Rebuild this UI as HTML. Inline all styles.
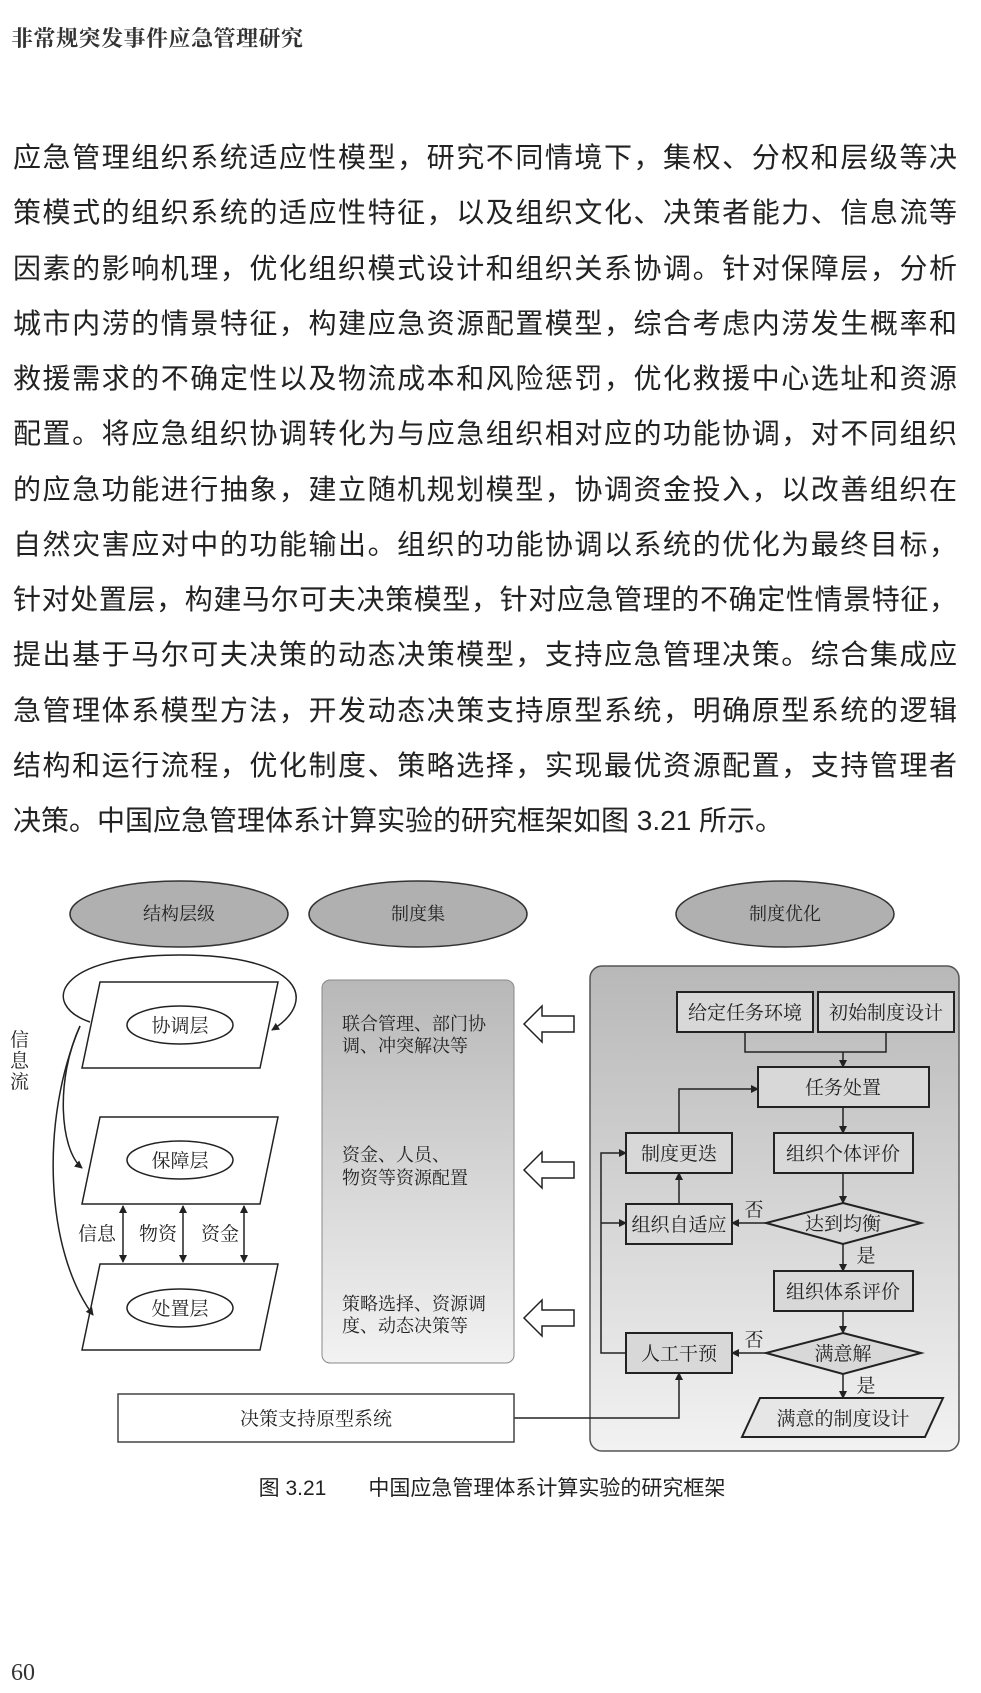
<!DOCTYPE html>
<html><head><meta charset="utf-8"><style>
body{margin:0;background:#fff;}
#p{position:relative;width:981px;height:1693px;overflow:hidden;background:#fff;}
.hd{position:absolute;left:11px;top:22px;font:bold 22px "Liberation Serif","Noto Serif CJK SC",serif;color:#333;letter-spacing:0.5px;}
.body{position:absolute;left:13px;top:130px;width:944px;font:28px "Liberation Sans","Noto Sans CJK SC",sans-serif;color:#222;}
.body div{height:55.25px;line-height:55.25px;text-align:justify;text-align-last:justify;white-space:nowrap;}
.body div.l{text-align-last:left;}
.pn{position:absolute;left:11px;top:1660px;font:24px "Liberation Serif",serif;color:#333;}
svg{position:absolute;left:0;top:0;}
svg text{font-family:"Liberation Serif","Noto Serif CJK SC",serif;fill:#222;}
</style></head><body><div id="p">
<div class="hd">非常规突发事件应急管理研究</div>
<div class="body">
<div>应急管理组织系统适应性模型，研究不同情境下，集权、分权和层级等决</div>
<div>策模式的组织系统的适应性特征，以及组织文化、决策者能力、信息流等</div>
<div>因素的影响机理，优化组织模式设计和组织关系协调。针对保障层，分析</div>
<div>城市内涝的情景特征，构建应急资源配置模型，综合考虑内涝发生概率和</div>
<div>救援需求的不确定性以及物流成本和风险惩罚，优化救援中心选址和资源</div>
<div>配置。将应急组织协调转化为与应急组织相对应的功能协调，对不同组织</div>
<div>的应急功能进行抽象，建立随机规划模型，协调资金投入，以改善组织在</div>
<div>自然灾害应对中的功能输出。组织的功能协调以系统的优化为最终目标，</div>
<div>针对处置层，构建马尔可夫决策模型，针对应急管理的不确定性情景特征，</div>
<div>提出基于马尔可夫决策的动态决策模型，支持应急管理决策。综合集成应</div>
<div>急管理体系模型方法，开发动态决策支持原型系统，明确原型系统的逻辑</div>
<div>结构和运行流程，优化制度、策略选择，实现最优资源配置，支持管理者</div>
<div class="l">决策。中国应急管理体系计算实验的研究框架如图 3.21 所示。</div>
</div>
<svg width="981" height="1693" viewBox="0 0 981 1693">
<defs>
<marker id="a" markerWidth="8" markerHeight="8" refX="7" refY="4" orient="auto" markerUnits="userSpaceOnUse"><path d="M0,0 L8,4 L0,8 Z" fill="#222"/></marker>
<marker id="b" markerWidth="8" markerHeight="8" refX="1" refY="4" orient="auto" markerUnits="userSpaceOnUse"><path d="M8,0 L0,4 L8,8 Z" fill="#222"/></marker>
<linearGradient id="g" x1="0" y1="0" x2="0" y2="1"><stop offset="0" stop-color="#b8b8b8"/><stop offset="1" stop-color="#f2f2f2"/></linearGradient>
</defs>
<g stroke="#333" stroke-width="1.5" fill="#b0b0b0">
<ellipse cx="179" cy="914" rx="109" ry="33"/>
<ellipse cx="418" cy="914" rx="109" ry="33"/>
<ellipse cx="785" cy="914" rx="109" ry="33"/>
</g>
<g font-size="18" text-anchor="middle">
<text x="179" y="920">结构层级</text><text x="418" y="920">制度集</text><text x="785" y="920">制度优化</text>
</g>
<!-- left -->
<g stroke="#222" stroke-width="1.5" fill="#fff">
<polygon points="100,982 278,982 260,1068 82,1068"/>
<polygon points="100,1117 278,1117 260,1204 82,1204"/>
<polygon points="100,1264 278,1264 260,1350 82,1350"/>
<ellipse cx="180" cy="1025" rx="53" ry="19"/>
<ellipse cx="180" cy="1160" rx="53" ry="19"/>
<ellipse cx="180" cy="1308" rx="53" ry="19"/>
</g>
<g font-size="19" text-anchor="middle">
<text x="180" y="1032">协调层</text><text x="180" y="1167">保障层</text><text x="180" y="1315">处置层</text>
<text x="97" y="1240">信息</text><text x="158" y="1240">物资</text><text x="220" y="1240">资金</text>
</g>
<g font-size="19"><text x="10" y="1046">信</text><text x="10" y="1067">息</text><text x="10" y="1088">流</text></g>
<g stroke="#222" stroke-width="1.5" fill="none">
<line x1="123" y1="1206" x2="123" y2="1262" marker-start="url(#b)" marker-end="url(#a)"/>
<line x1="183" y1="1206" x2="183" y2="1262" marker-start="url(#b)" marker-end="url(#a)"/>
<line x1="244" y1="1206" x2="244" y2="1262" marker-start="url(#b)" marker-end="url(#a)"/>
<path d="M90,1022 C40,1005 55,955 180,955 C300,955 320,1000 272,1030" marker-end="url(#a)"/>
<path d="M80,1026 C55,1080 60,1150 82,1168" marker-end="url(#a)"/>
<path d="M80,1026 C40,1120 45,1250 93,1315" marker-end="url(#a)"/>
</g>
<!-- middle -->
<rect x="322" y="980" width="192" height="383" rx="8" fill="url(#g)" stroke="#888" stroke-width="1"/>
<g font-size="18">
<text x="342" y="1030">联合管理、部门协</text><text x="342" y="1052">调、冲突解决等</text>
<text x="342" y="1161">资金、人员、</text><text x="342" y="1184">物资等资源配置</text>
<text x="342" y="1310">策略选择、资源调</text><text x="342" y="1332">度、动态决策等</text>
</g>
<g stroke="#222" stroke-width="1.5" fill="#fff">
<polygon points="524,1024 542,1006 542,1016 574,1016 574,1032 542,1032 542,1042"/>
<polygon points="524,1170 542,1152 542,1162 574,1162 574,1178 542,1178 542,1188"/>
<polygon points="524,1318 542,1300 542,1310 574,1310 574,1326 542,1326 542,1336"/>
</g>
<!-- right -->
<rect x="590" y="966" width="369" height="485" rx="12" fill="url(#g)" stroke="#555" stroke-width="1.5"/>
<g stroke="#222" stroke-width="2" fill="#d8d8d8">
<rect x="677" y="992" width="136" height="40"/>
<rect x="818" y="992" width="136" height="40"/>
<rect x="758" y="1067" width="171" height="40"/>
<rect x="774" y="1133" width="139" height="40"/>
<polygon points="843,1203 921,1223 843,1244 766,1223"/>
<rect x="774" y="1271" width="139" height="40"/>
<polygon points="843,1333 921,1353 843,1374 766,1353"/>
<polygon points="760,1398 943,1398 925,1437 742,1437" fill="#e6e6e6"/>
<rect x="626" y="1133" width="106" height="40"/>
<rect x="626" y="1204" width="106" height="40"/>
<rect x="626" y="1333" width="106" height="40"/>
</g>
<g font-size="19" text-anchor="middle">
<text x="745" y="1019">给定任务环境</text><text x="886" y="1019">初始制度设计</text>
<text x="843" y="1094">任务处置</text><text x="843" y="1160">组织个体评价</text>
<text x="843" y="1230">达到均衡</text><text x="843" y="1298">组织体系评价</text>
<text x="843" y="1360">满意解</text><text x="843" y="1425">满意的制度设计</text>
<text x="679" y="1160">制度更迭</text><text x="679" y="1231">组织自适应</text><text x="679" y="1360">人工干预</text>
<text x="754" y="1216">否</text><text x="754" y="1346">否</text>
<text x="866" y="1262">是</text><text x="866" y="1392">是</text>
</g>
<g stroke="#222" stroke-width="1.5" fill="none">
<polyline points="745,1032 745,1052 886,1052 886,1032"/>
<line x1="843" y1="1052" x2="843" y2="1067" marker-end="url(#a)"/>
<line x1="843" y1="1107" x2="843" y2="1133" marker-end="url(#a)"/>
<line x1="843" y1="1173" x2="843" y2="1203" marker-end="url(#a)"/>
<line x1="843" y1="1244" x2="843" y2="1271" marker-end="url(#a)"/>
<line x1="843" y1="1311" x2="843" y2="1333" marker-end="url(#a)"/>
<line x1="843" y1="1374" x2="843" y2="1398" marker-end="url(#a)"/>
<line x1="766" y1="1223" x2="732" y2="1223" marker-end="url(#a)"/>
<line x1="766" y1="1353" x2="732" y2="1353" marker-end="url(#a)"/>
<line x1="679" y1="1204" x2="679" y2="1173" marker-end="url(#a)"/>
<polyline points="679,1133 679,1089 758,1089" marker-end="url(#a)"/>
<polyline points="626,1353 601,1353 601,1153 626,1153" marker-end="url(#a)"/>
<line x1="601" y1="1223" x2="626" y2="1223" marker-end="url(#a)"/>
<polyline points="514,1418 679,1418 679,1373" marker-end="url(#a)"/>
</g>
<rect x="118" y="1394" width="396" height="48" fill="#fff" stroke="#444" stroke-width="1.5"/>
<text x="316" y="1425" font-size="19" text-anchor="middle">决策支持原型系统</text>
<text x="492" y="1495" font-size="21" text-anchor="middle" style="font-family:'Liberation Sans','Noto Sans CJK SC',sans-serif">图 3.21　　中国应急管理体系计算实验的研究框架</text>
</svg>
<div class="pn">60</div>
</div></body></html>
